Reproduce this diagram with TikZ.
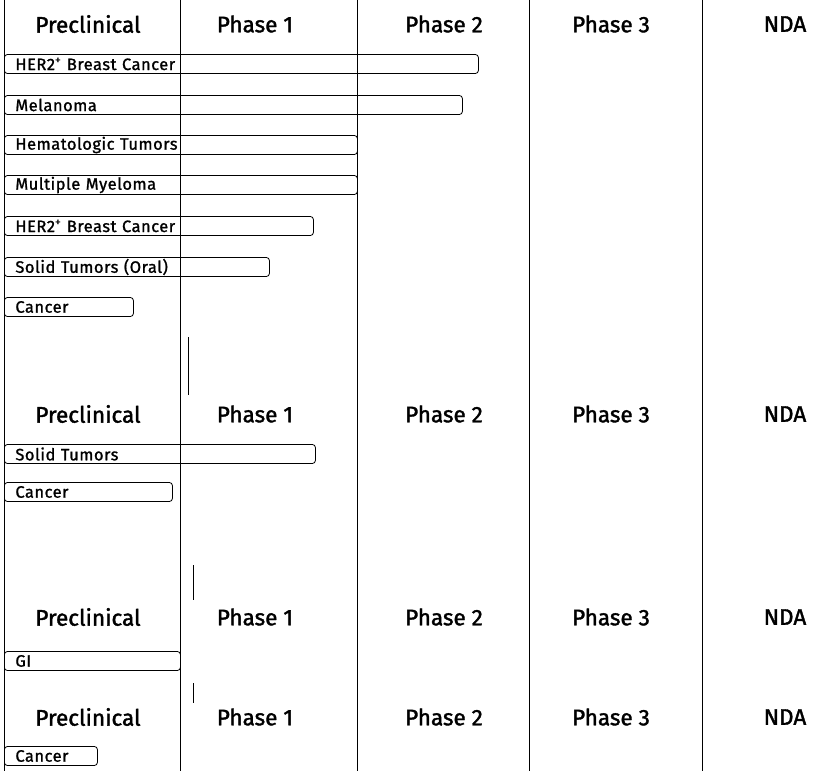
\documentclass[tikz,border=0pt]{standalone}
\usepackage{fontspec}
\setmainfont{Fira Sans}
\newfontfamily\headfont{Fira Sans}[FakeBold=1.6]
\newfontfamily\barfont{Fira Sans}[FakeBold=1.2,LetterSpace=3]
\usetikzlibrary{positioning}

\begin{document}
\begin{tikzpicture}[x=1pt,y=-1pt,
		head/.style={font=\headfont\fontsize{22.5}{22.5}\selectfont},
		bar/.style={draw,rounded corners=3pt,line width=0.8pt,anchor=west,minimum height=19pt,inner xsep=11pt,inner ysep=0pt,align=left,font=\barfont\fontsize{16.5}{16.5}\selectfont}]
		\useasboundingbox (0,0) rectangle (817,771);
		\foreach \x in {4,180,357,529,702} \draw[line width=0.8pt] (\x,0)--(\x,771); %列の線
		\draw[line width=0.6pt] (188,337)--(188,395) (193,565)--(193,600) (193,683)--(193,703); %切れ端
		\foreach \y [count=\k] in {24,414,617,717}{ %見出し
			\node[head] (precl\k) at (88,\y) {Preclinical};
			\node[head] (phI\k) at (255,\y) {Phase 1};
			\node[head] (phII\k) at (444,\y) {Phase 2};
			\node[head] (phIII\k) at (611,\y) {Phase 3};
			\node[head] (nda\k) at (785,\y) {NDA};
		}
		\foreach \y/\r/\t [count=\i] in {64/478/{HER2\textsuperscript{+} Breast Cancer},105/462/{Melanoma},145/357/{Hematologic Tumors},185/357/{Multiple Myeloma},226/313/{HER2\textsuperscript{+} Breast Cancer},267/269/{Solid Tumors (Oral)},307/133/{Cancer},454/315/{Solid Tumors},492/172/{Cancer},661/180/{GI},756/97/{Cancer}}{ %バー
			\pgfmathsetmacro\w{\r-26}
			\node[bar,text width=\w pt] (bar\i) at (4,\y) {\t};
		}
	\end{tikzpicture}
\end{document}
